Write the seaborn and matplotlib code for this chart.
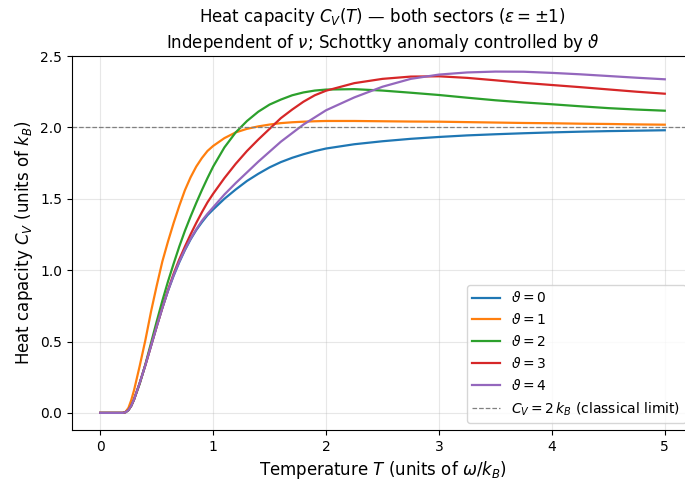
"""Heat capacity C_V(T) for several theta values, both sectors."""

import matplotlib
matplotlib.use("Agg")
import matplotlib.pyplot as plt
import pandas as pd
import seaborn as sns

# temperature grid (units of omega/k_B)
temperature = [0.0, 0.1, 0.2, 0.225, 0.25, 0.275, 0.3,
               0.35, 0.4, 0.45, 0.5, 0.55, 0.6, 0.65, 0.7, 0.75, 0.8, 0.85, 0.9, 0.95, 1.0,
               1.1, 1.2, 1.3, 1.4, 1.5, 1.6, 1.7, 1.8, 1.9, 2.0,
               2.25, 2.5, 2.75, 3.0, 3.25, 3.5, 3.75, 4.0, 4.25, 4.5, 4.75, 5.0]

cv_theta0 = [0.0, 0.0, 0.0, 0.005, 0.02, 0.05, 0.095,
             0.21, 0.335, 0.47, 0.605, 0.735, 0.855, 0.96, 1.055, 1.14, 1.215, 1.28, 1.335, 1.385, 1.425,
             1.50, 1.565, 1.625, 1.675, 1.72, 1.757, 1.787, 1.812, 1.834, 1.852,
             1.882, 1.903, 1.92, 1.933, 1.944, 1.952, 1.959, 1.965, 1.97, 1.974, 1.977, 1.98]
cv_theta1 = [0.0, 0.0, 0.0, 0.008, 0.035, 0.09, 0.16,
             0.33, 0.51, 0.71, 0.89, 1.06, 1.20, 1.33, 1.45, 1.56, 1.65, 1.725, 1.785, 1.835, 1.87,
             1.925, 1.965, 1.99, 2.007, 2.02, 2.03, 2.036, 2.04, 2.043, 2.045,
             2.045, 2.043, 2.041, 2.04, 2.037, 2.034, 2.031, 2.029, 2.026, 2.024, 2.021, 2.019]
cv_theta2 = [0.0, 0.0, 0.0, 0.005, 0.02, 0.05, 0.095,
             0.205, 0.34, 0.49, 0.64, 0.785, 0.92, 1.045, 1.165, 1.275, 1.375, 1.47, 1.56, 1.645, 1.725,
             1.86, 1.965, 2.045, 2.11, 2.16, 2.195, 2.225, 2.245, 2.258, 2.265,
             2.268, 2.258, 2.243, 2.227, 2.208, 2.19, 2.175, 2.162, 2.148, 2.135, 2.125, 2.117]
cv_theta3 = [0.0, 0.0, 0.0, 0.005, 0.02, 0.05, 0.095,
             0.21, 0.335, 0.47, 0.605, 0.735, 0.86, 0.975, 1.075, 1.165, 1.25, 1.33, 1.405, 1.475, 1.535,
             1.645, 1.745, 1.835, 1.915, 1.99, 2.065, 2.125, 2.18, 2.225, 2.257,
             2.31, 2.34, 2.356, 2.358, 2.347, 2.33, 2.312, 2.297, 2.282, 2.266, 2.25, 2.236]
cv_theta4 = [0.0, 0.0, 0.0, 0.005, 0.02, 0.05, 0.095,
             0.21, 0.335, 0.47, 0.605, 0.735, 0.855, 0.965, 1.06, 1.145, 1.22, 1.285, 1.345, 1.395, 1.44,
             1.53, 1.61, 1.685, 1.76, 1.83, 1.90, 1.96, 2.02, 2.07, 2.12,
             2.21, 2.285, 2.34, 2.37, 2.385, 2.391, 2.39, 2.382, 2.372, 2.36, 2.348, 2.337]

thetas = [0, 1, 2, 3, 4]
series = [cv_theta0, cv_theta1, cv_theta2, cv_theta3, cv_theta4]
classical_limit = 2.0

df = pd.concat(
    [pd.DataFrame({"T": temperature, "C": vals, "theta": th}) for th, vals in zip(thetas, series)],
    ignore_index=True,
)

colors = sns.color_palette("tab10", len(thetas))

fig = plt.figure(figsize=(6.85, 4.83), dpi=100)
# right spine deliberately falls just outside the canvas, as in the reference
ax = fig.add_axes([0.1051, 0.1097, 0.9066, 0.7743])

for th, color in zip(thetas, colors):
    sns.lineplot(data=df[df["theta"] == th], x="T", y="C", ax=ax, color=color,
                 linewidth=1.6, label=rf"$\vartheta = {th}$")

ax.axhline(classical_limit, color="gray", linestyle="--", linewidth=0.9,
           label=r"$C_V = 2\,k_B$ (classical limit)")

ax.set_xlim(-0.25, 5.25)
ax.set_ylim(-0.12, 2.5)
ax.set_xticks([0, 1, 2, 3, 4, 5])
ax.set_yticks([0.0, 0.5, 1.0, 1.5, 2.0, 2.5])
ax.set_yticklabels(["0.0", "0.5", "1.0", "1.5", "2.0", "2.5"])
ax.tick_params(labelsize=10)
ax.grid(True, alpha=0.3)

ax.set_xlabel(r"Temperature $T$ (units of $\omega/k_B$)", fontsize=12)
ax.set_ylabel(r"Heat capacity $C_V$ (units of $k_B$)", fontsize=12)
ax.set_title("Heat capacity $C_V(T)$ — both sectors ($\\varepsilon = \\pm1$)\n"
             "Independent of $\\nu$; Schottky anomaly controlled by $\\vartheta$",
             fontsize=12)
ax.legend(loc="lower right", fontsize=10)

fig.savefig("out.png", dpi=100)
plt.close(fig)
